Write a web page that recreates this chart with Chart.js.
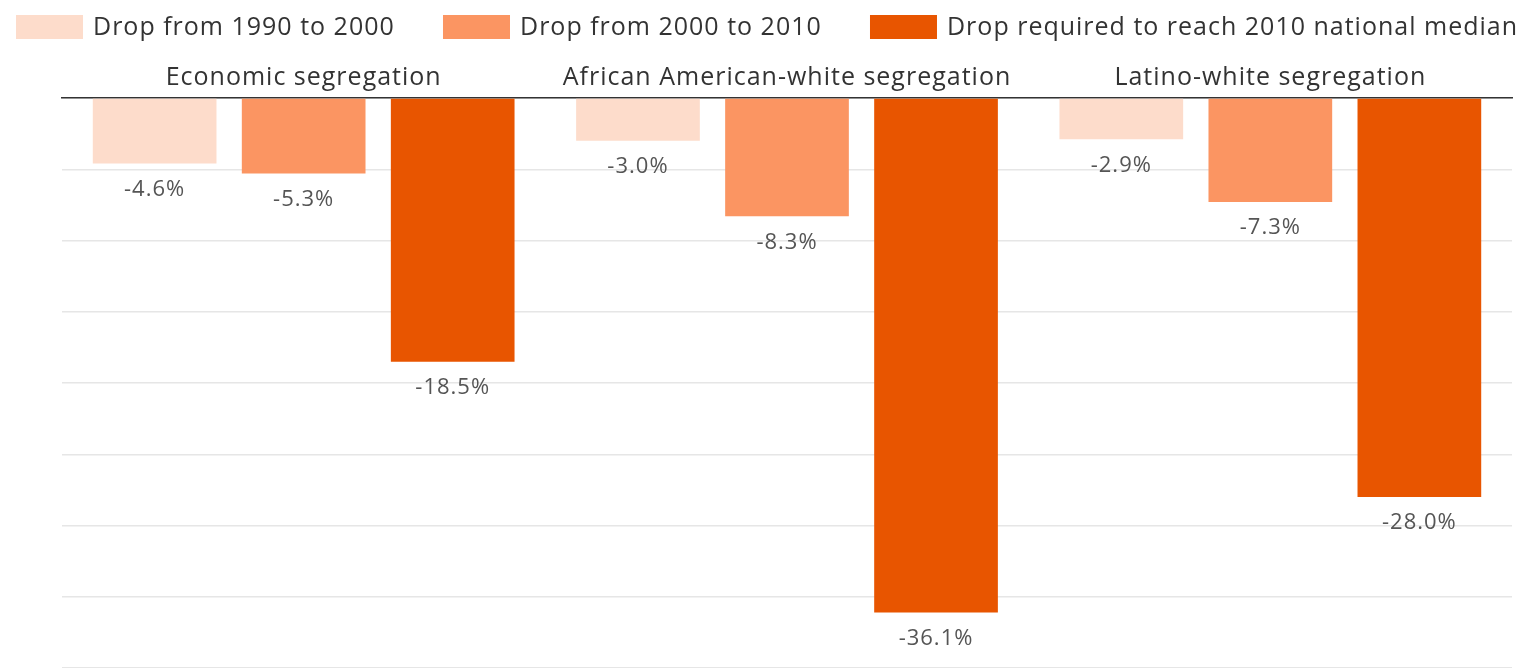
<!DOCTYPE html>
<html lang="en">
<head>
    <meta charset="UTF-8">
    <title>Segregation drops</title>
    <script src="https://cdn.jsdelivr.net/npm/chart.js"></script>
    <style>
        html, body {
            margin: 0;
            padding: 0;
            background: #ffffff;
        }
        .chart-box {
            width: 1524px;
            height: 668px;
        }
    </style>
</head>
<body>
    <div class="chart-box">
        <canvas id="dropChart" width="1524" height="668"></canvas>
    </div>

    <script>
        // data
        const categories = ['Economic segregation', 'African American-white segregation', 'Latino-white segregation'];
        const seriesNames = ['Drop from 1990 to 2000', 'Drop from 2000 to 2010', 'Drop required to reach 2010 national median'];
        const drop1990to2000 = [-4.6, -3.0, -2.9];
        const drop2000to2010 = [-5.3, -8.3, -7.3];
        const dropToMedian = [-18.5, -36.1, -28.0];
        const yMin = -40;
        const yMax = 0;
        const yStep = 5;

        const colors = ['#fddccb', '#fb9562', '#e85500'];
        const fontFamily = '"Open Sans", "Noto Sans", sans-serif';
        const spacing = '1px'; // original font is a bit wider than Open Sans

        // wider letters for everything chart.js writes (tick labels)
        const wideText = {
            id: 'wideText',
            beforeDraw(chart) {
                chart.ctx.letterSpacing = spacing;
            }
        };

        // legend drawn across the top, spread edge to edge like the original
        const topLegend = {
            id: 'topLegend',
            afterDraw(chart) {
                const ctx = chart.ctx;
                const boxW = 67, boxH = 24, gap = 10;
                const left = 16, right = 1518, midY = 27;
                ctx.save();
                ctx.letterSpacing = spacing;
                ctx.font = '25px ' + fontFamily;
                const items = chart.data.datasets.map((ds, i) => ({
                    text: ds.label,
                    color: ds.backgroundColor,
                    w: boxW + gap + ctx.measureText(ds.label).width
                }));
                const used = items.reduce((s, it) => s + it.w, 0);
                const space = (right - left - used) / (items.length - 1);
                let x = left;
                items.forEach(it => {
                    ctx.fillStyle = it.color;
                    ctx.fillRect(x, midY - boxH / 2, boxW, boxH);
                    ctx.fillStyle = '#333333';
                    ctx.textBaseline = 'middle';
                    ctx.textAlign = 'left';
                    ctx.fillText(it.text, x + boxW + gap, midY + 1);
                    x += it.w + space;
                });
                ctx.restore();
            }
        };

        // value labels under each bar
        const valueLabels = {
            id: 'valueLabels',
            afterDatasetsDraw(chart) {
                const ctx = chart.ctx;
                ctx.save();
                ctx.letterSpacing = spacing;
                ctx.font = '22px ' + fontFamily;
                ctx.fillStyle = '#555555';
                ctx.textAlign = 'center';
                ctx.textBaseline = 'middle';
                chart.data.datasets.forEach((ds, i) => {
                    const meta = chart.getDatasetMeta(i);
                    meta.data.forEach((bar, j) => {
                        ctx.fillText(ds.data[j].toFixed(1) + '%', bar.x, bar.y + 26);
                    });
                });
                ctx.restore();
            }
        };

        const ctx = document.getElementById('dropChart').getContext('2d');

        const dropChart = new Chart(ctx, {
            type: 'bar',
            data: {
                labels: categories,
                datasets: [
                    { label: seriesNames[0], data: drop1990to2000, backgroundColor: colors[0] },
                    { label: seriesNames[1], data: drop2000to2010, backgroundColor: colors[1] },
                    { label: seriesNames[2], data: dropToMedian, backgroundColor: colors[2] }
                ]
            },
            options: {
                responsive: false,
                animation: false,
                layout: { padding: { top: 58, left: 62, right: 12, bottom: 0 } },
                datasets: {
                    bar: { categoryPercentage: 0.925, barPercentage: 0.83 }
                },
                plugins: {
                    legend: { display: false },
                    tooltip: { enabled: false }
                },
                scales: {
                    x: {
                        position: 'top',
                        grid: { display: false, drawTicks: false },
                        border: { display: true, color: '#333333', width: 1.5 },
                        ticks: {
                            color: '#333333',
                            padding: 5,
                            font: { family: fontFamily, size: 25 }
                        }
                    },
                    y: {
                        min: yMin,
                        max: yMax,
                        ticks: { display: false, stepSize: yStep },
                        grid: { color: '#e6e6e6', lineWidth: 1.5, drawTicks: false },
                        border: { display: false }
                    }
                }
            },
            plugins: [wideText, topLegend, valueLabels]
        });
    </script>
</body>
</html>
